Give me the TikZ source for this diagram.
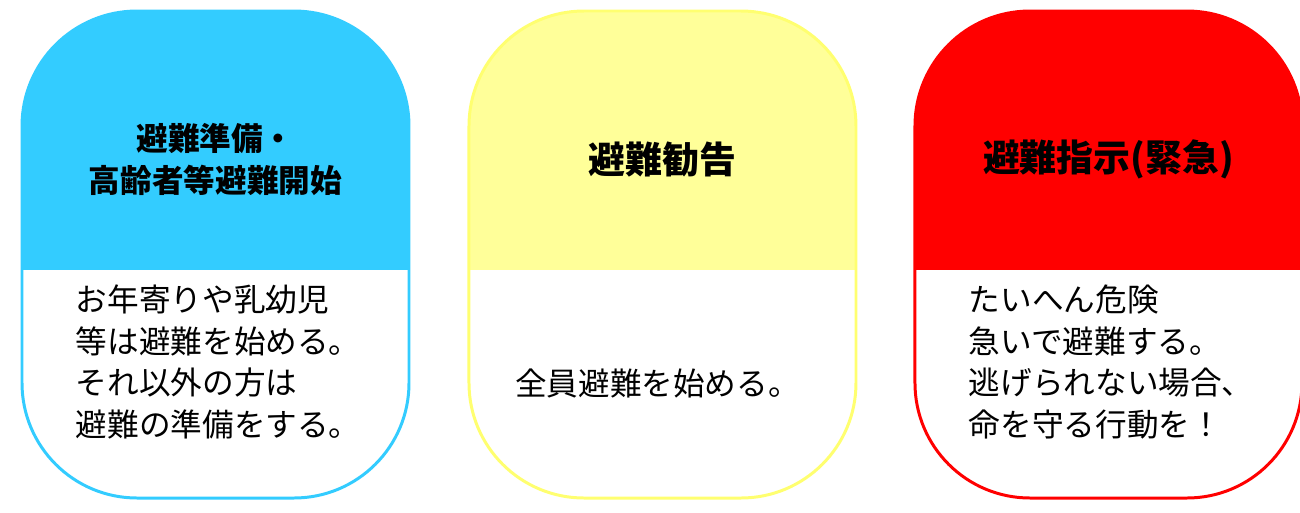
\documentclass[tikz,border=0pt]{standalone}
\usepackage{fontspec}
\usetikzlibrary{positioning}
\newfontfamily\jp{Noto Sans CJK JP}
\definecolor{sky}{HTML}{33CCFF}
\definecolor{lemon}{HTML}{FFFF99}
\definecolor{lemonline}{HTML}{FFFF70}
\definecolor{alarm}{HTML}{FF0000}
\tikzset{
  level/.style={draw=#1,line width=1.7pt,rounded corners=2.3cm,fill=white,
                minimum width=7.74cm,minimum height=9.74cm,inner sep=0pt,
                path picture={\fill[#1,sharp corners] (path picture bounding box.north west)
                  rectangle ([yshift=-0.31cm]path picture bounding box.east);}},
  head/.style={font=\jp\bfseries\fontsize{18}{24}\selectfont,align=center,inner sep=0pt},
  bighead/.style={head,font=\jp\bfseries\fontsize{21}{26}\selectfont},
  body/.style={font=\jp\fontsize{18}{23.8}\selectfont,align=left,inner sep=0pt},
}
\begin{document}
\begin{tikzpicture}
    \path[use as bounding box,fill=white] (0,0) rectangle (26,-10.24);
    % the three levels
    \node[level=sky] (prep) at (4.31,-5.09) {};
    \node[level=lemon,draw=lemonline,right=1.14cm of prep] (advice) {};
    \node[level=alarm,right=1.12cm of advice] (order) {};
    % headings
    \node[head] (prep-head) at ([yshift=-3.0cm]prep.north) {避難準備・\\高齢者等避難開始};
    \node[bighead] (advice-head) at ([yshift=-3.0cm]advice.north) {避難勧告};
    \node[bighead] (order-head) at ([yshift=-3.0cm]order.north) {避難指示(緊急)};
    % what to do
    \node[body,anchor=west] (prep-body) at ([xshift=1.1cm,yshift=-7.05cm]prep.north west)
      {お年寄りや乳幼児\\等は避難を始める。\\それ以外の方は\\避難の準備をする。};
    \node[body] (advice-body) at ([xshift=-0.1cm,yshift=-7.48cm]advice.north)
      {全員避難を始める。};
    \node[body,anchor=west] (order-body) at ([xshift=1.1cm,yshift=-7.05cm]order.north west)
      {たいへん危険\\急いで避難する。\\逃げられない場合、\\命を守る行動を！};
  \end{tikzpicture}
\end{document}
